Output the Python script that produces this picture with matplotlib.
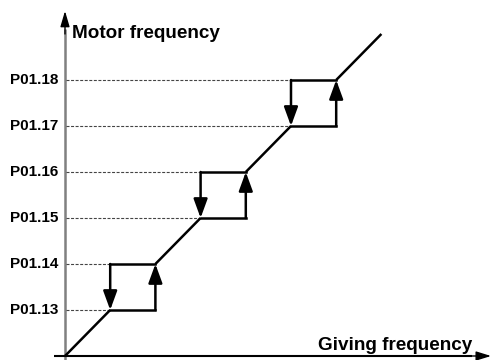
import matplotlib.pyplot as plt

# hysteresis levels (in step units) and their labels
tick_levels = [1, 2, 3, 4, 5, 6]
tick_labels = ['P01.13', 'P01.14', 'P01.15', 'P01.16', 'P01.17', 'P01.18']

# each loop: low edge / high edge (same value on x and y)
loop_low = [1, 3, 5]
loop_high = [2, 4, 6]

# diagonal segments between loops
diag_start = [0, 2, 4, 6]
diag_end = [1, 3, 5, 7]

plt.rcParams['font.family'] = ['Liberation Sans', 'DejaVu Sans']

fig = plt.figure(figsize=(4.91, 3.6), dpi=100)
ax = fig.add_axes([0, 0, 1, 1])
ax.set_xlim(-1.438, 9.425)
ax.set_ylim(-0.087, 7.739)
ax.axis('off')

# axes with arrows
ax.plot([0, 0], [-0.087, 7.1], color='gray', lw=1.8, solid_capstyle='butt')
ax.annotate('', xy=(0, 7.5), xytext=(0, 7.0),
            arrowprops=dict(arrowstyle='-|>,head_length=0.95,head_width=0.28',
                            color='black', lw=1, shrinkA=0, shrinkB=0))
ax.plot([-0.24, 9.0], [0, 0], color='black', lw=1.5, solid_capstyle='butt')
ax.annotate('', xy=(9.425, 0), xytext=(9.0, 0),
            arrowprops=dict(arrowstyle='-|>,head_length=0.9,head_width=0.28',
                            color='black', lw=1, shrinkA=0, shrinkB=0))

# dashed reference lines from the axis to the falling edge of each loop
dash_end = [lo for lo in loop_low for _ in range(2)]
ax.hlines(tick_levels, 0.02, dash_end, colors='#444444', lw=0.8,
          linestyles=(0, (2.7, 1.4)))

for lv, lab in zip(tick_levels, tick_labels):
    ax.text(-0.155, lv, lab, ha='right', va='center', fontsize=11, fontweight='bold')

# diagonal parts of the curve
for x0, x1 in zip(diag_start, diag_end):
    ax.plot([x0, x1], [x0, x1], color='black', lw=1.8, solid_capstyle='butt')

# hysteresis rectangles
for lo, hi in zip(loop_low, loop_high):
    ax.plot([lo, hi], [lo, lo], color='black', lw=1.8, solid_capstyle='projecting')
    ax.plot([lo, hi], [hi, hi], color='black', lw=1.8, solid_capstyle='projecting')
    ax.annotate('', xy=(lo, lo), xytext=(lo, hi),
                arrowprops=dict(arrowstyle='-|>,head_length=1.15,head_width=0.42',
                                color='black', lw=1.8, shrinkA=0, shrinkB=0))
    ax.annotate('', xy=(hi, hi), xytext=(hi, lo),
                arrowprops=dict(arrowstyle='-|>,head_length=1.15,head_width=0.42',
                                color='black', lw=1.8, shrinkA=0, shrinkB=0))

ax.text(0.155, 6.913, 'Motor frequency', ha='left', va='baseline',
        fontsize=13.6, fontweight='bold')
ax.text(9.0, 0.13, 'Giving frequency', ha='right', va='baseline',
        fontsize=13.6, fontweight='bold')

fig.savefig('out.png', dpi=100)
